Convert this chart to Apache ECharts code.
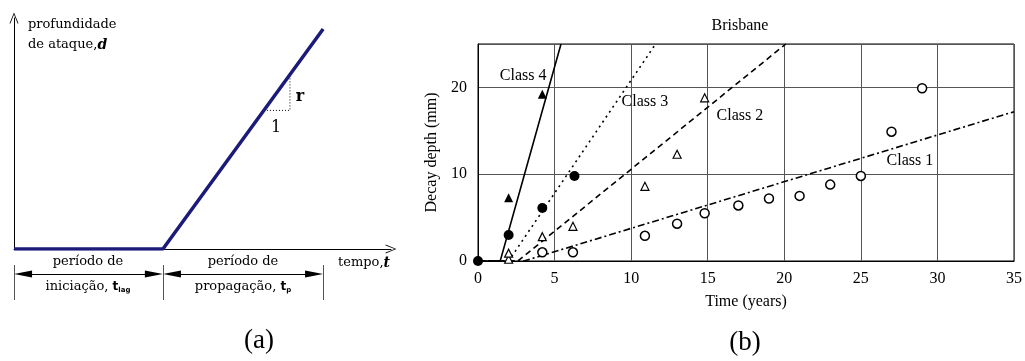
<!DOCTYPE html>
<html>
<head>
<meta charset="utf-8">
<script src="https://cdn.jsdelivr.net/npm/echarts@6/dist/echarts.min.js"></script>
<style>
html, body { margin: 0; padding: 0; background: #fff; }
#main { width: 1025px; height: 361px; }
</style>
</head>
<body>
<div id="main"></div>
<script>
// ---- panel (b): Brisbane, decay depth vs time ----
var class1Pts = [[4.2, 1.0], [6.2, 1.0], [10.9, 2.9], [13.0, 4.3], [14.8, 5.5], [17.0, 6.4],
                 [19.0, 7.2], [21.0, 7.5], [23.0, 8.8], [25.0, 9.8], [27.0, 14.9], [29.0, 19.9]];
var class2Pts = [[2.0, 0.2], [2.0, 0.9], [4.2, 2.8], [6.2, 4.0], [10.9, 8.6], [13.0, 12.3], [14.8, 18.8]];
var class3Pts = [[0, 0], [2.0, 3.0], [4.2, 6.1], [6.3, 9.8]];
var class4Pts = [[2.0, 7.3], [4.2, 19.2]];

var class1Line = [[0, 0], [3.0, 0], [35, 17.2]];
var class2Line = [[0, 0], [2.6, 0], [20.1, 25]];
var class3Line = [[0, 0], [2.0, 0], [11.6, 25]];
var class4Line = [[0, 0], [1.45, 0], [5.42, 25]];

var classNames = ['Class 1', 'Class 2', 'Class 3', 'Class 4'];
var classLabelAt = [[28.2, 11.5], [17.1, 16.7], [10.9, 18.3], [2.95, 21.3]];

// ---- panel (a): schematic ----
var depthLine = [[0, 0], [3.95, 0], [8.2, 9.52]];
var slopeTri = [[6.63, 6.0], [7.32, 6.0], [7.32, 7.55]];
var periodTicks = [0, 3.95, 8.2];
var arrowInset = 0.24;

var chart = echarts.init(document.getElementById('main'));

var serif = 'Liberation Serif';
var cm = 'DejaVu Serif';
var openArrow = 'path://M5,0 L10,12 L9,12 L5,2 L1,12 L0,12 Z';

function txt(s, x, y, font, align) {
    return {
        type: 'text', x: x, y: y, silent: true,
        style: { text: s, font: font, fill: '#000', textAlign: align || 'center', textVerticalAlign: 'middle' }
    };
}
function richTxt(s, x, y, rich, align) {
    return {
        type: 'text', x: x, y: y, silent: true,
        style: { text: s, rich: rich, fill: '#000', textAlign: align || 'center', textVerticalAlign: 'middle' }
    };
}

var arrowLines = [];
for (var i = 0; i < periodTicks.length - 1; i++) {
    arrowLines.push([{ coord: [periodTicks[i] + arrowInset, 31] }, { coord: [periodTicks[i + 1] - arrowInset, 31] }]);
}
var tickLines = periodTicks.map(function (t) {
    return [{ coord: [t, 5] }, { coord: [t, 40] }];
});

var schemAxisLine = {
    show: true,
    symbol: ['none', openArrow],
    symbolSize: [9, 12],
    lineStyle: { color: '#000', width: 1 }
};

function pts(data, symbol, size, style) {
    return { type: 'scatter', xAxisIndex: 2, yAxisIndex: 2, data: data, symbol: symbol, symbolSize: size, z: 5,
             itemStyle: Object.assign({ opacity: 1 }, style) };
}

var option = {
    animation: false,
    backgroundColor: '#fff',
    grid: [
        { left: 14, top: 18, width: 377, height: 231 },
        { left: 14, top: 260, width: 377, height: 45 },
        { left: 478, top: 44, width: 537, height: 217, show: true, borderColor: '#000', borderWidth: 1 }
    ],
    xAxis: [
        { gridIndex: 0, type: 'value', min: 0, max: 10, axisLine: schemAxisLine,
          axisTick: { show: false }, axisLabel: { show: false }, splitLine: { show: false } },
        { gridIndex: 1, type: 'value', min: 0, max: 10, show: false },
        { gridIndex: 2, type: 'value', min: 0, max: 35, interval: 5,
          name: 'Time (years)', nameLocation: 'middle', nameGap: 33,
          nameTextStyle: { fontFamily: serif, fontSize: 16, color: '#000' },
          axisLine: { show: true, lineStyle: { color: '#000', width: 1 } },
          axisTick: { show: false },
          axisLabel: { margin: 10, fontFamily: serif, fontSize: 16, color: '#000' },
          splitLine: { show: true, lineStyle: { color: '#555', width: 1 } } }
    ],
    yAxis: [
        { gridIndex: 0, type: 'value', min: 0, max: 10, axisLine: schemAxisLine,
          axisTick: { show: false }, axisLabel: { show: false }, splitLine: { show: false } },
        { gridIndex: 1, type: 'value', min: 0, max: 45, show: false },
        { gridIndex: 2, type: 'value', min: 0, max: 25, interval: 10,
          name: 'Decay depth (mm)', nameLocation: 'middle', nameGap: 37,
          nameTextStyle: { fontFamily: serif, fontSize: 16, color: '#000' },
          axisLine: { show: true, lineStyle: { color: '#000', width: 1 } },
          axisTick: { show: false },
          axisLabel: { margin: 11, fontFamily: serif, fontSize: 16, color: '#000',
                       formatter: function (v) { return v % 10 === 0 ? String(v) : ''; } },
          splitLine: { show: true, lineStyle: { color: '#555', width: 1 } } }
    ],
    series: [
        // (a) schematic
        { type: 'line', xAxisIndex: 0, yAxisIndex: 0, data: depthLine, symbol: 'none', z: 4,
          lineStyle: { color: '#1b1b7a', width: 3.5 } },
        { type: 'line', xAxisIndex: 0, yAxisIndex: 0, data: slopeTri, symbol: 'none',
          lineStyle: { color: '#000', width: 1, type: [1, 2] } },
        { type: 'line', xAxisIndex: 1, yAxisIndex: 1, data: [], clip: false,
          markLine: { silent: true, symbol: ['triangle', 'triangle'], symbolSize: [7, 18],
                      label: { show: false }, lineStyle: { color: '#000', width: 1, type: 'solid' },
                      data: arrowLines } },
        { type: 'line', xAxisIndex: 1, yAxisIndex: 1, data: [], clip: false,
          markLine: { silent: true, symbol: ['none', 'none'],
                      label: { show: false }, lineStyle: { color: '#555', width: 1, type: 'solid' },
                      data: tickLines } },
        // (b) fitted lines
        { type: 'line', xAxisIndex: 2, yAxisIndex: 2, data: class1Line, symbol: 'none',
          lineStyle: { color: '#000', width: 1.6, type: [7, 3, 2, 3] } },
        { type: 'line', xAxisIndex: 2, yAxisIndex: 2, data: class2Line, symbol: 'none',
          lineStyle: { color: '#000', width: 1.6, type: [6, 4] } },
        { type: 'line', xAxisIndex: 2, yAxisIndex: 2, data: class3Line, symbol: 'none',
          lineStyle: { color: '#000', width: 1.6, type: [2, 4] } },
        { type: 'line', xAxisIndex: 2, yAxisIndex: 2, data: class4Line, symbol: 'none',
          lineStyle: { color: '#000', width: 1.6 } },
        // (b) measured points
        pts(class1Pts, 'circle', 9, { color: '#fff', borderColor: '#000', borderWidth: 1.5 }),
        pts(class2Pts, 'triangle', 8, { color: '#fff', borderColor: '#000', borderWidth: 1.2 }),
        pts(class3Pts, 'circle', 10, { color: '#000' }),
        pts(class4Pts, 'triangle', 9, { color: '#000' }),
        // (b) class labels
        { type: 'scatter', xAxisIndex: 2, yAxisIndex: 2, symbolSize: 1, z: 6, silent: true,
          itemStyle: { color: '#fff', opacity: 0 },
          label: { show: true, position: 'inside', formatter: '{b}', color: '#000', opacity: 1,
                   fontFamily: serif, fontSize: 16 },
          data: classNames.map(function (n, k) { return { name: n, value: classLabelAt[k] }; }) }
    ],
    graphic: [
        txt('profundidade', 28, 25, '13px ' + cm, 'left'),
        richTxt('{n|de ataque,}{d|d}', 28, 45, {
            n: { font: '13px ' + cm, fill: '#000' },
            d: { font: 'italic bold 14px ' + cm, fill: '#000' }
        }, 'left'),
        txt('r', 300, 97, 'bold 16px ' + cm),
        txt('1', 276, 128, '16px ' + cm),
        richTxt('{n|tempo,}{d|t}', 338, 263, {
            n: { font: '13px ' + cm, fill: '#000' },
            d: { font: 'italic bold 14px ' + cm, fill: '#000' }
        }, 'left'),
        txt('período de', 88, 262, '13px ' + cm),
        richTxt('{n|iniciação, }{t|t}{s|lag}', 88, 287, {
            n: { font: '13px ' + cm, fill: '#000' },
            t: { font: 'bold 12px DejaVu Sans', fill: '#000' },
            s: { font: 'bold 7px DejaVu Sans', fill: '#000', padding: [6, 0, 0, 0] }
        }),
        txt('período de', 243, 262, '13px ' + cm),
        richTxt('{n|propagação, }{t|t}{s|p}', 243, 287, {
            n: { font: '13px ' + cm, fill: '#000' },
            t: { font: 'bold 12px DejaVu Sans', fill: '#000' },
            s: { font: 'bold 7px DejaVu Sans', fill: '#000', padding: [6, 0, 0, 0] }
        }),
        txt('(a)', 259, 341, '27px ' + serif),
        txt('Brisbane', 740, 26, '16px ' + serif),
        txt('(b)', 745, 343, '27px ' + serif)
    ]
};
chart.setOption(option);
</script>
</body>
</html>
